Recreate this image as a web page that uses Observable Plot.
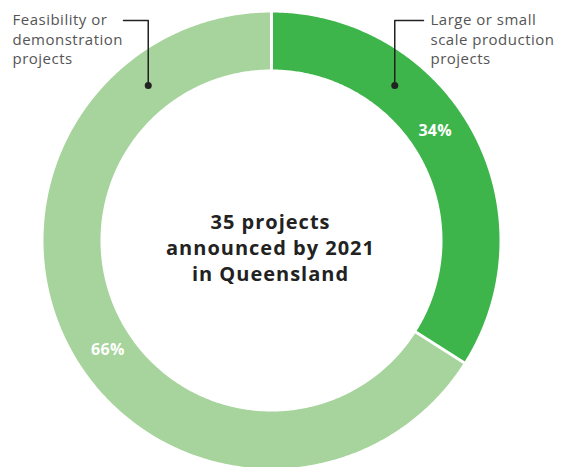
<!DOCTYPE html>
<html><head><meta charset="utf-8">
<script src="https://cdn.jsdelivr.net/npm/d3@7"></script>
<script src="https://cdn.jsdelivr.net/npm/@observablehq/plot@0.6"></script>
<style>html,body{margin:0;padding:0;background:#fff}
svg g.callout text{letter-spacing:0.5px}
svg g.center text{letter-spacing:1px}
svg g.pct text{letter-spacing:0.3px}
</style>
</head><body><div id="chart"></div>
<script>
// ---- data ----
const categories = ["Large or small scale production projects", "Feasibility or demonstration projects"];
const shares = [34, 66];
const calloutLines = [["Large or small", "scale production", "projects"], ["Feasibility or", "demonstration", "projects"]];
const centerLines = ["35 projects", "announced by 2021", "in Queensland"];
const colors = ["#3db54a", "#a6d49c"];

// ---- layout ----
const W = 564, H = 467, cx = 271, cy = 240, R = 228, r = 171;
const font = "'Open Sans', sans-serif";
const rad = d => d * Math.PI / 180;
const pt = (deg, rr) => [Math.sin(rad(deg)) * rr, -Math.cos(rad(deg)) * rr];

const total = d3.sum(shares);
let acc = 0;
const segs = shares.map((v, i) => {
  const a0 = acc / total * 360; acc += v; const a1 = acc / total * 360;
  return {i, cat: categories[i], v, a0, a1};
});

// polygon vertices for each ring segment
const poly = [];
for (const s of segs) {
  const n = Math.ceil((s.a1 - s.a0) / 0.5);
  for (let k = 0; k <= n; k++) { const a = s.a0 + (s.a1 - s.a0) * k / n; const [x, y] = pt(a, R); poly.push({cat: s.cat, x, y}); }
  for (let k = n; k >= 0; k--) { const a = s.a0 + (s.a1 - s.a0) * k / n; const [x, y] = pt(a, r); poly.push({cat: s.cat, x, y}); }
}
const seps = segs.map(s => { const [x1, y1] = pt(s.a0, r - 2); const [x2, y2] = pt(s.a0, R + 2); return {x1, y1, x2, y2}; });
const pctLabels = segs.map(s => { const [x, y] = pt((s.a0 + s.a1) / 2 - 5, 197); return {x, y, text: s.v + "%"}; });

// callouts: index 0 on the right, index 1 on the left
const side = [1, -1];
const leaders = [], dots = [], cTexts = [];
segs.forEach((s, i) => {
  const dir = side[i];
  const [dx, dy] = pt(38.5 * dir, 198);
  const topY = -220;
  const hx = dir > 0 ? 152 : -148;
  leaders.push({cat: s.cat, x: dx, y: dy}, {cat: s.cat, x: dx, y: topY}, {cat: s.cat, x: hx, y: topY});
  dots.push({x: dx, y: dy});
  const tx = dir > 0 ? 159 : -259;
  calloutLines[i].forEach((t, j) => cTexts.push({x: tx, y: -220 + j * 19.5, text: t}));
});

const chart = Plot.plot({
  width: W, height: H, margin: 0,
  x: {domain: [-cx, W - cx], range: [0, W], axis: null},
  y: {domain: [-cy, H - cy], range: [0, H], axis: null},
  style: {fontFamily: font, background: "#fff"},
  marks: [
    ...segs.map(s => Plot.line(poly.filter(p => p.cat === s.cat), {x: "x", y: "y", fill: colors[s.i], stroke: "none", curve: "linear"})),
    Plot.link(seps, {x1: "x1", y1: "y1", x2: "x2", y2: "y2", stroke: "#fff", strokeWidth: 3}),
    Plot.text(pctLabels, {x: "x", y: "y", text: "text", fill: "#fff", fontSize: 16, fontWeight: 700, className: "pct"}),
    Plot.line(leaders, {x: "x", y: "y", z: "cat", stroke: "#222", strokeWidth: 1.5}),
    Plot.dot(dots, {x: "x", y: "y", r: 3.5, fill: "#222", stroke: "none"}),
    Plot.text(cTexts, {x: "x", y: "y", text: "text", textAnchor: "start", fill: "#555", fontSize: 15, className: "callout"}),
    Plot.text([centerLines.join("\n")], {x: () => -1, y: () => 6, text: d => d, fill: "#222", fontSize: 20, fontWeight: 700, lineHeight: 1.3, lineAnchor: "middle", className: "center"})
  ]
});
document.getElementById("chart").appendChild(chart);
</script>
</body></html>
